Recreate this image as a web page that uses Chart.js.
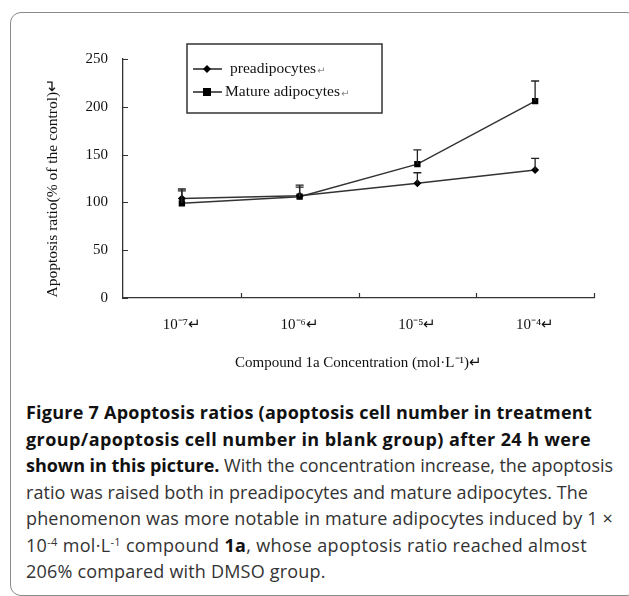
<!DOCTYPE html>
<html>
<head>
<meta charset="utf-8">
<script src="https://cdn.jsdelivr.net/npm/chart.js@4.4.1/dist/chart.umd.min.js"></script>
<style>
body { margin: 0; background: #fff; width: 629px; height: 596px; overflow: hidden; position: relative; }
#card { position: absolute; left: 10px; top: 12px; width: 626px; height: 582px; border: 1px solid #8a8a8a; border-radius: 11px; }
#wrap { position: absolute; left: 0; top: 0; width: 629px; height: 390px; }
#caption { position: absolute; left: 26px; top: 399px; font-family: "Open Sans", sans-serif; font-size: 18px; line-height: 26.5px; color: #333; white-space: nowrap; }
#caption div { height: 26.5px; }
#caption b { color: #111; font-weight: 700; }
#caption sup { font-size: 11px; vertical-align: 6px; line-height: 0; }
</style>
</head>
<body>
<div id="card"></div>
<div id="wrap"><canvas id="chart" width="629" height="390"></canvas></div>
<div id="caption">
  <div><b>Figure 7 Apoptosis ratios (apoptosis cell number in treatment</b></div>
  <div><b>group/apoptosis cell number in blank group) after 24 h were</b></div>
  <div><b>shown in this picture.</b> With the concentration increase, the apoptosis</div>
  <div>ratio was raised both in preadipocytes and mature adipocytes. The</div>
  <div>phenomenon was more notable in mature adipocytes induced by 1 ×</div>
  <div>10<sup>-4</sup> mol·L<sup>-1</sup> compound <b>1a</b>, whose apoptosis ratio reached almost</div>
  <div>206% compared with DMSO group.</div>
</div>
<script>
// values (% of control)
var concLabels = ['10⁻⁷↵', '10⁻⁶↵', '10⁻⁵↵', '10⁻⁴↵'];
var preValues = [104, 107, 120, 134];
var preErrors = [10, 11, 11, 12];
var matureValues = [99, 106, 140, 206];
var matureErrors = [13, 10, 15, 21];
var seriesNames = ['preadipocytes', 'Mature adipocytes'];

var serif = 'Liberation Serif';

// upward error bars with a cap
var errorBars = {
    id: 'errorBars',
    afterDatasetsDraw: function (chart) {
        var ctx = chart.ctx, y = chart.scales.y;
        chart.data.datasets.forEach(function (ds, i) {
            var meta = chart.getDatasetMeta(i);
            meta.data.forEach(function (pt, j) {
                var top = y.getPixelForValue(ds.data[j] + ds.errors[j]);
                ctx.save();
                ctx.strokeStyle = '#222';
                ctx.lineWidth = 1.3;
                ctx.beginPath();
                ctx.moveTo(pt.x, pt.y);
                ctx.lineTo(pt.x, top);
                ctx.moveTo(pt.x - 4, top);
                ctx.lineTo(pt.x + 4, top);
                ctx.stroke();
                ctx.restore();
            });
        });
    }
};

// small tick marks pointing into the plot
var innerTicks = {
    id: 'innerTicks',
    afterDraw: function (chart) {
        var ctx = chart.ctx, a = chart.chartArea;
        var x = chart.scales.x, y = chart.scales.y;
        ctx.save();
        ctx.strokeStyle = '#333';
        ctx.lineWidth = 1.2;
        ctx.beginPath();
        y.ticks.forEach(function (t) {
            var py = Math.round(y.getPixelForValue(t.value)) + 0.5;
            ctx.moveTo(a.left, py);
            ctx.lineTo(a.left + 5, py);
        });
        var half = (x.getPixelForValue(1) - x.getPixelForValue(0)) / 2;
        for (var i = 0; i < concLabels.length; i++) {
            var px = Math.round(x.getPixelForValue(i) + half) + 0.5;
            ctx.moveTo(px, a.bottom);
            ctx.lineTo(px, a.bottom - 5);
        }
        ctx.stroke();
        ctx.restore();
    }
};

// boxed legend inside the plot, like the original
var boxLegend = {
    id: 'boxLegend',
    afterDraw: function (chart) {
        var ctx = chart.ctx;
        ctx.save();
        ctx.strokeStyle = '#333';
        ctx.lineWidth = 1.5;
        ctx.strokeRect(187, 44, 195, 69);
        chart.data.datasets.forEach(function (ds, i) {
            var yy = 69 + i * 23;
            ctx.strokeStyle = '#222';
            ctx.lineWidth = 1.5;
            ctx.beginPath();
            ctx.moveTo(193, yy);
            ctx.lineTo(222, yy);
            ctx.stroke();
            ctx.fillStyle = '#000';
            if (ds.pointStyle === 'rect') {
                ctx.fillRect(203, yy - 4, 8, 8);
            } else {
                ctx.beginPath();
                ctx.moveTo(207, yy - 4);
                ctx.lineTo(211, yy);
                ctx.lineTo(207, yy + 4);
                ctx.lineTo(203, yy);
                ctx.closePath();
                ctx.fill();
            }
            ctx.font = '15.5px "' + serif + '"';
            ctx.textBaseline = 'middle';
            ctx.fillStyle = '#111';
            var tx = i === 0 ? 230 : 225;
            ctx.fillText(ds.label, tx, yy);
            var w = ctx.measureText(ds.label).width;
            ctx.fillStyle = '#888';
            ctx.font = '10px "DejaVu Sans"';
            ctx.fillText('↵', tx + w + 1, yy + 2);
        });
        ctx.restore();
    }
};

var ctx = document.getElementById('chart').getContext('2d');
window.myLine = new Chart(ctx, {
    type: 'line',
    data: {
        labels: concLabels,
        datasets: [{
            label: seriesNames[0],
            data: preValues,
            errors: preErrors,
            borderColor: '#333',
            borderWidth: 1.5,
            pointStyle: 'rectRot',
            pointRadius: 4,
            pointBackgroundColor: '#000',
            pointBorderColor: '#000',
            pointBorderWidth: 0,
            tension: 0
        }, {
            label: seriesNames[1],
            data: matureValues,
            errors: matureErrors,
            borderColor: '#333',
            borderWidth: 1.5,
            pointStyle: 'rect',
            pointRadius: 4.5,
            pointBackgroundColor: '#000',
            pointBorderColor: '#000',
            pointBorderWidth: 0,
            tension: 0
        }]
    },
    options: {
        responsive: false,
        animation: false,
        layout: { padding: { top: 59, right: 35, left: 0, bottom: 0 } },
        plugins: {
            legend: { display: false },
            tooltip: { enabled: false }
        },
        scales: {
            x: {
                offset: true,
                grid: { display: false, drawTicks: false },
                border: { color: '#333', width: 1.3 },
                ticks: { padding: 18, color: '#111', font: { family: serif, size: 15 } },
                title: {
                    display: true,
                    text: 'Compound 1a Concentration (mol·L⁻¹)↵',
                    color: '#111',
                    font: { family: serif, size: 15 },
                    padding: { top: 0, bottom: 18 }
                },
                afterFit: function (s) { s.height = 92; }
            },
            y: {
                min: 0,
                max: 250,
                grid: { display: false, drawTicks: false },
                border: { color: '#333', width: 1.3 },
                ticks: { stepSize: 50, padding: 15, color: '#111', font: { family: serif, size: 15 } },
                title: {
                    display: true,
                    text: 'Apoptosis ratio(% of the control)↵     ',
                    color: '#111',
                    font: { family: serif, size: 15.5 },
                    padding: { top: 44, bottom: 0 }
                },
                afterFit: function (s) { s.width = 123; }
            }
        }
    },
    plugins: [errorBars, innerTicks, boxLegend]
});

// stretch caption lines to the widths they have in the figure
var targets = [566, 565, 587, 562, 587, 561, null];
var lines = document.querySelectorAll('#caption div');
var spacings = [];
lines.forEach(function (el, i) {
    if (targets[i] === null) return;
    var r = document.createRange();
    r.selectNodeContents(el);
    var w = r.getBoundingClientRect().width;
    var n = el.textContent.length;
    var ls = (targets[i] - w) / n;
    el.style.letterSpacing = ls + 'px';
    spacings.push(ls);
});
var avg = spacings.reduce(function (a, b) { return a + b; }, 0) / spacings.length;
lines[6].style.letterSpacing = avg + 'px';
</script>
</body>
</html>
